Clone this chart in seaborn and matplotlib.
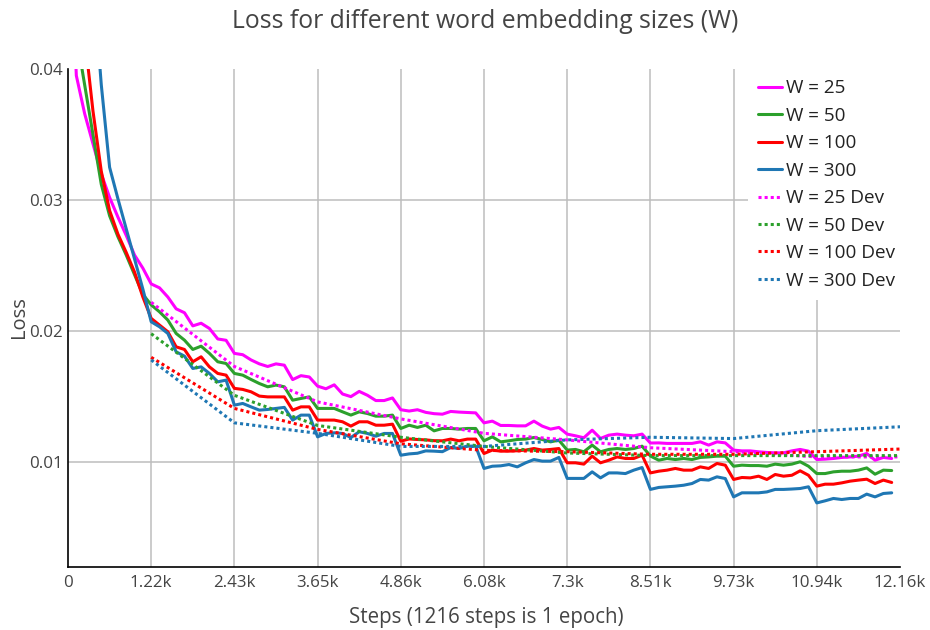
import matplotlib
matplotlib.use("Agg")
import matplotlib.pyplot as plt
import seaborn as sns
import pandas as pd

# ---- data -------------------------------------------------------------
STEPS_PER_EPOCH = 1216
LOG_EVERY = STEPS_PER_EPOCH / 10          # training loss logged 10x per epoch
N_TRAIN_POINTS = 100
train_steps = [i * LOG_EVERY for i in range(N_TRAIN_POINTS)]
dev_steps = [e * STEPS_PER_EPOCH for e in range(1, 11)]

loss_w25 = [
    0.055, 0.0395, 0.0366, 0.0343, 0.0320, 0.0302, 0.0287, 0.0273, 0.0258, 0.0248,
    0.0236, 0.0233, 0.0226, 0.0217, 0.0214, 0.0204, 0.0206, 0.0202, 0.0194, 0.0193,
    0.0183, 0.0182, 0.0178, 0.0175, 0.0173, 0.0175, 0.0174, 0.0163, 0.0166, 0.0165,
    0.0158, 0.0156, 0.0159, 0.0152, 0.0150, 0.0154, 0.0151, 0.0147, 0.0147, 0.0149,
    0.0140, 0.0139, 0.0140, 0.0138, 0.0137, 0.01366, 0.01387, 0.01382, 0.01379, 0.01376,
    0.0130, 0.01313, 0.0128, 0.0128, 0.01277, 0.01277, 0.01313, 0.01275, 0.01252, 0.01265,
    0.01214, 0.01201, 0.01186, 0.01244, 0.01181, 0.01206, 0.01214, 0.01206, 0.01201, 0.01214,
    0.01146, 0.01147, 0.01143, 0.01143, 0.01143, 0.01143, 0.01155, 0.0113, 0.01155, 0.01147,
    0.01092, 0.01086, 0.01086, 0.01079, 0.01074, 0.01071, 0.01071, 0.01086, 0.01097, 0.01084,
    0.0102, 0.01023, 0.01028, 0.01036, 0.0104, 0.01046, 0.01066, 0.01015, 0.01036, 0.01028,
]
loss_w50 = [
    0.058, 0.0426, 0.0388, 0.0350, 0.0312, 0.0288, 0.0272, 0.0258, 0.0243, 0.0228,
    0.0220, 0.02147, 0.02084, 0.01982, 0.01931, 0.0186, 0.01885, 0.0183, 0.01766, 0.01753,
    0.01677, 0.01664, 0.01631, 0.016, 0.01575, 0.01588, 0.01575, 0.01473, 0.01486, 0.01498,
    0.0141, 0.0141, 0.0141, 0.01384, 0.01359, 0.01384, 0.01371, 0.01351, 0.01351, 0.01359,
    0.01257, 0.01282, 0.01265, 0.01282, 0.01239, 0.01257, 0.01257, 0.01252, 0.01257, 0.01257,
    0.01163, 0.01193, 0.01155, 0.01163, 0.01173, 0.01176, 0.01188, 0.01173, 0.01155, 0.01168,
    0.01092, 0.01097, 0.01079, 0.0113, 0.01079, 0.01097, 0.01104, 0.01097, 0.01104, 0.01122,
    0.01047, 0.01015, 0.01028, 0.0102, 0.01028, 0.0102, 0.01036, 0.0104, 0.01046, 0.01046,
    0.00969, 0.00977, 0.00974, 0.00974, 0.00969, 0.00985, 0.00977, 0.00985, 0.01003, 0.00969,
    0.00913, 0.00913, 0.00926, 0.00931, 0.00931, 0.00939, 0.00956, 0.00908, 0.00939, 0.00936,
]
loss_w100 = [
    0.062, 0.050, 0.0425, 0.0368, 0.0322, 0.0292, 0.0274, 0.0260, 0.0245, 0.0226,
    0.02097, 0.02046, 0.01995, 0.0188, 0.0186, 0.01766, 0.01804, 0.01727, 0.01677, 0.01664,
    0.01563, 0.01555, 0.01537, 0.01504, 0.01498, 0.01498, 0.01498, 0.01397, 0.01422, 0.01422,
    0.01321, 0.01321, 0.01321, 0.01308, 0.01275, 0.01308, 0.01308, 0.01282, 0.01282, 0.0129,
    0.0116, 0.01177, 0.01173, 0.0117, 0.01164, 0.01163, 0.01176, 0.01163, 0.01176, 0.01176,
    0.01066, 0.01092, 0.01084, 0.01084, 0.01087, 0.01092, 0.01104, 0.01092, 0.01097, 0.01104,
    0.00995, 0.00995, 0.00985, 0.01046, 0.00995, 0.01015, 0.0104, 0.01028, 0.01028, 0.01053,
    0.00918, 0.00931, 0.00939, 0.00952, 0.00939, 0.00939, 0.00964, 0.00952, 0.0099, 0.00977,
    0.00868, 0.00883, 0.0088, 0.00893, 0.00868, 0.00906, 0.00893, 0.009, 0.00934, 0.009,
    0.00817, 0.00832, 0.00832, 0.00842, 0.00855, 0.00863, 0.0087, 0.00837, 0.00863, 0.00845,
]
loss_w300 = [
    0.075, 0.062, 0.054, 0.047, 0.0388, 0.0325, 0.0301, 0.0278, 0.0255, 0.0232,
    0.02071, 0.02033, 0.01982, 0.01842, 0.01809, 0.01715, 0.01727, 0.01677, 0.01613, 0.01626,
    0.01435, 0.01448, 0.01422, 0.01397, 0.01402, 0.0141, 0.01418, 0.01321, 0.01359, 0.01359,
    0.01193, 0.01219, 0.01224, 0.01219, 0.01188, 0.01232, 0.01219, 0.01198, 0.01219, 0.01219,
    0.01053, 0.01063, 0.01068, 0.01086, 0.01084, 0.0108, 0.01112, 0.01104, 0.01122, 0.01122,
    0.00952, 0.00969, 0.00972, 0.00982, 0.00964, 0.00995, 0.0102, 0.01008, 0.01008, 0.01036,
    0.00876, 0.00876, 0.00876, 0.00926, 0.0088, 0.00918, 0.00918, 0.00913, 0.00939, 0.00959,
    0.00792, 0.00807, 0.00812, 0.00817, 0.00824, 0.00837, 0.00868, 0.00863, 0.00888, 0.00875,
    0.00735, 0.00766, 0.00766, 0.00766, 0.00773, 0.00792, 0.00792, 0.00795, 0.00799, 0.00812,
    0.00689, 0.00705, 0.00723, 0.00715, 0.00723, 0.00723, 0.00756, 0.00735, 0.00761, 0.00766,
]

dev_w25 = [0.0222, 0.0173, 0.0146, 0.0133, 0.0122, 0.0117, 0.0111, 0.0108, 0.0104, 0.0104]
dev_w50 = [0.0198, 0.0151, 0.0128, 0.0119, 0.0112, 0.0107, 0.0105, 0.0105, 0.0105, 0.0105]
dev_w100 = [0.0180, 0.0141, 0.0125, 0.0114, 0.0109, 0.0108, 0.0106, 0.0106, 0.0108, 0.0110]
dev_w300 = [0.0178, 0.0130, 0.0122, 0.0112, 0.0112, 0.0117, 0.0119, 0.0118, 0.0124, 0.0127]

sizes = ["25", "50", "100", "300"]
colors = ["#ff00ff", "#2ca02c", "#ff0000", "#1f77b4"]
x_tick_labels = ["0", "1.22k", "2.43k", "3.65k", "4.86k", "6.08k",
                 "7.3k", "8.51k", "9.73k", "10.94k", "12.16k"]
y_ticks = [0.01, 0.02, 0.03, 0.04]

train_series = [loss_w25, loss_w50, loss_w100, loss_w300]
dev_series = [dev_w25, dev_w50, dev_w100, dev_w300]

# ---- styling ----------------------------------------------------------
sns.set_theme(style="white")
plt.rcParams["font.family"] = ["Open Sans", "DejaVu Sans"]
TEXT = "#444444"

fig = plt.figure(figsize=(9.3, 6.3), dpi=100)
ax = fig.add_axes([68 / 930, 63 / 630, 832 / 930, 498 / 630])

LW = 2.2
for w, vals, c in zip(sizes, train_series, colors):
    df = pd.DataFrame({"step": train_steps, "loss": vals})
    sns.lineplot(data=df, x="step", y="loss", ax=ax, color=c, linewidth=LW,
                 label=f"W = {w}", zorder=3)
for w, vals, c in zip(sizes, dev_series, colors):
    df = pd.DataFrame({"step": dev_steps, "loss": vals})
    sns.lineplot(data=df, x="step", y="loss", ax=ax, color=c, linewidth=LW,
                 linestyle=(0, (1, 1)), label=f"W = {w} Dev", zorder=4)

ax.set_xlim(0, 10 * STEPS_PER_EPOCH)
ax.set_ylim(0.002, 0.04)
ax.set_xticks([e * STEPS_PER_EPOCH for e in range(11)])
ax.set_xticklabels(x_tick_labels)
ax.set_yticks(y_ticks)
ax.set_yticklabels([f"{v:g}" for v in y_ticks])
ax.tick_params(axis="both", length=0, labelsize=12.2, colors=TEXT)
ax.tick_params(axis="x", pad=6)
ax.tick_params(axis="y", pad=4)

ax.grid(True, color="#bdbdbd", linewidth=1.1)
ax.set_axisbelow(True)
# no grid at the plot edges
ax.get_xgridlines()[0].set_visible(False)
ax.get_xgridlines()[-1].set_visible(False)
ax.get_ygridlines()[-1].set_visible(False)

for side in ["top", "right"]:
    ax.spines[side].set_visible(False)
for side in ["left", "bottom"]:
    ax.spines[side].set_color("black")
    ax.spines[side].set_linewidth(1.2)

ax.set_xlabel("")
ax.set_ylabel("")
fig.text(486 / 930, 1 - 617 / 630, "Steps (1216 steps is 1 epoch)",
         ha="center", va="center", fontsize=14.8, color=TEXT)
fig.text(19 / 930, 1 - 317 / 630, "Loss", ha="center", va="center",
         rotation=90, fontsize=14.5, color=TEXT)
fig.text(485 / 930, 1 - 22 / 630, "Loss for different word embedding sizes (W)",
         ha="center", va="center", fontsize=17.8, color=TEXT)

leg = ax.legend(loc="upper left", bbox_to_anchor=((748 - 68) / 832, 1.0),
                borderaxespad=0, fontsize=13.6, frameon=True, facecolor="white",
                edgecolor="none", framealpha=1, handlelength=1.25,
                handletextpad=0.2, labelspacing=0.5, borderpad=0.55)
leg.set_zorder(10)
for t in leg.get_texts():
    t.set_color("#222222")

fig.savefig("out.png", dpi=100)
